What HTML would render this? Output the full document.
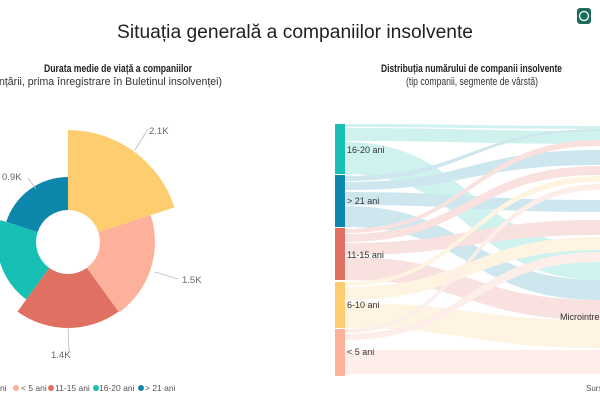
<!DOCTYPE html>
<html><head><meta charset="utf-8"><style>
body{margin:0;width:600px;height:400px;overflow:hidden;background:#fff;font-family:"Liberation Sans",sans-serif;}
</style></head><body>
<svg width="600" height="400" xmlns="http://www.w3.org/2000/svg" font-family="Liberation Sans, sans-serif">
<text x="117" y="38" font-size="19" textLength="356" lengthAdjust="spacingAndGlyphs" fill="#222">Situația generală a companiilor insolvente</text>
<rect x="577" y="8" width="14" height="16" rx="3" fill="#1d6b5c"/>
<circle cx="584" cy="16" r="4.5" fill="none" stroke="#fff" stroke-width="1.3"/>
<text x="44" y="72" font-size="11" font-weight="bold" textLength="148" lengthAdjust="spacingAndGlyphs" fill="#222">Durata medie de viață a companiilor</text>
<text x="-1" y="85" font-size="11" textLength="223" lengthAdjust="spacingAndGlyphs" fill="#333">nțării, prima înregistrare în Buletinul insolvenței)</text>
<text x="381" y="72" font-size="11" font-weight="bold" textLength="181" lengthAdjust="spacingAndGlyphs" fill="#222">Distribuția numărului de companii insolvente</text>
<text x="406" y="85" font-size="11" textLength="132" lengthAdjust="spacingAndGlyphs" fill="#333">(tip companii, segmente de vârstă)</text>
<g transform="translate(68,242)">
<path d="M0,-112 A112,112 0 0 1 106.5,-34.6 L30.4,-9.9 A32,32 0 0 0 0,-32 Z" fill="#fecd6f"/>
<path d="M82.7,-26.9 A87,87 0 0 1 51.1,70.4 L18.8,25.9 A32,32 0 0 0 30.4,-9.9 Z" fill="#fdb09a"/>
<path d="M50.5,69.6 A86,86 0 0 1 -50.5,69.6 L-18.8,25.9 A32,32 0 0 0 18.8,25.9 Z" fill="#e07062"/>
<path d="M-41.7,57.4 A71,71 0 0 1 -67.5,-21.9 L-30.4,-9.9 A32,32 0 0 0 -18.8,25.9 Z" fill="#17bfb5"/>
<path d="M-61.8,-20.1 A65,65 0 0 1 0,-65 L0,-32 A32,32 0 0 0 -30.4,-9.9 Z" fill="#0e87ad"/>
</g>
<g stroke="#bbb" stroke-width="0.8" fill="none">
<path d="M135,150 L148,129"/><path d="M155,272 L178,279"/><path d="M68,328 L69,352"/><path d="M28,178 L36,189"/>
</g>
<g font-size="9.5" fill="#666">
<text x="149" y="134">2.1K</text><text x="182" y="283">1.5K</text><text x="51" y="358">1.4K</text><text x="2" y="180">0.9K</text>
</g>
<g font-size="8.5" fill="#555">
<text x="0" y="391">ni</text>
<circle cx="16" cy="388" r="3" fill="#fdb09a"/><text x="21" y="391">&lt; 5 ani</text>
<circle cx="51" cy="388" r="3" fill="#e07062"/><text x="55" y="391">11-15 ani</text>
<circle cx="96" cy="388" r="3" fill="#17bfb5"/><text x="99" y="391">16-20 ani</text>
<circle cx="141" cy="388" r="3" fill="#0e87ad"/><text x="145" y="391">&gt; 21 ani</text>
</g>
<g opacity="0.2">
<path d="M345,124 C470,124 470,126 600,126 L600,129 C470,129 470,127 345,127Z" fill="#17bfb5"/>
<path d="M345,128 C470,128 470,131 600,131 L600,144 C470,144 470,141 345,141Z" fill="#17bfb5"/>
<path d="M345,142 C470,142 470,245 600,245 L600,280 C470,280 470,174 345,174Z" fill="#17bfb5"/>
<path d="M345,176 C470,176 470,129 600,129 L600,131 C470,131 470,181 345,181Z" fill="#0e87ad"/>
<path d="M345,182 C470,182 470,150 600,150 L600,165 C470,165 470,190 345,190Z" fill="#0e87ad"/>
<path d="M345,192 C470,192 470,200 600,200 L600,212 C470,212 470,205 345,205Z" fill="#0e87ad"/>
<path d="M345,206 C470,206 470,280 600,280 L600,300 C470,300 470,227 345,227Z" fill="#0e87ad"/>
<path d="M345,229 C470,229 470,140 600,140 L600,146 C470,146 470,233 345,233Z" fill="#e07062"/>
<path d="M345,234 C470,234 470,166 600,166 L600,175 C470,175 470,242 345,242Z" fill="#e07062"/>
<path d="M345,243 C470,243 470,220 600,220 L600,235 C470,235 470,255 345,255Z" fill="#e07062"/>
<path d="M345,257 C470,257 470,300 600,300 L600,320 C470,320 470,280 345,280Z" fill="#e07062"/>
<path d="M345,282 C470,282 470,176 600,176 L600,182 C470,182 470,286 345,286Z" fill="#fecd6f"/>
<path d="M345,287 C470,287 470,237 600,237 L600,250 C470,250 470,300 345,300Z" fill="#fecd6f"/>
<path d="M345,303 C470,303 470,320 600,320 L600,348 C470,348 470,328 345,328Z" fill="#fecd6f"/>
<path d="M345,329 C470,329 470,184 600,184 L600,190 C470,190 470,333 345,333Z" fill="#fdb09a"/>
<path d="M345,334 C470,334 470,252 600,252 L600,262 C470,262 470,340 345,340Z" fill="#fdb09a"/>
<path d="M345,350 C470,350 470,350 600,350 L600,374 C470,374 470,374 345,374Z" fill="#fdb09a"/>
</g>
<rect x="335" y="124" width="10" height="50" fill="#17bfb5"/>
<rect x="335" y="175" width="10" height="52" fill="#0e87ad"/>
<rect x="335" y="228" width="10" height="52" fill="#e07062"/>
<rect x="335" y="282" width="10" height="46" fill="#fecd6f"/>
<rect x="335" y="329" width="10" height="47" fill="#fdb09a"/>
<g font-size="9" fill="#333">
<text x="347" y="153">16-20 ani</text><text x="347" y="204">&gt; 21 ani</text><text x="347" y="258">11-15 ani</text>
<text x="347" y="308">6-10 ani</text><text x="347" y="355">&lt; 5 ani</text>
<text x="560" y="320">Microintrep</text>
<text x="586" y="391" font-size="8" fill="#555">Surs</text>
</g>
</svg>
</body></html>
